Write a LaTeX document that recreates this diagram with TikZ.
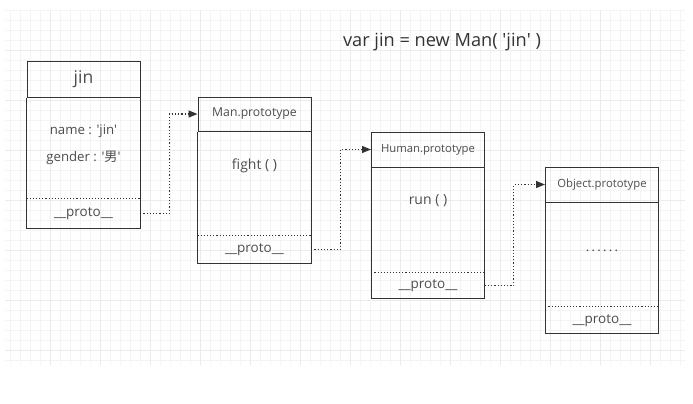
\documentclass[tikz,border=0pt]{standalone}
\usepackage{fontspec}
\setmainfont{Open Sans}
\newfontfamily\cjk{Noto Sans CJK SC}
\usepackage{xcolor}
\usepackage{tikz}
\usetikzlibrary{arrows.meta}
\definecolor{boxline}{HTML}{333333}
\definecolor{txt}{HTML}{4d4d4d}
\newcommand{\q}{\textquotesingle}

\begin{document}
\begin{tikzpicture}[x=1pt, y=-1pt,
	hdr/.style={draw=boxline, line width=1pt, minimum width=113pt, inner sep=0pt, text=txt, font=\fontsize{11.3}{13}\selectfont},
	body/.style={minimum width=113pt, inner sep=0pt, anchor=north},
	side/.style={boxline, line width=1pt},
	field/.style={text=txt, font=\fontsize{13.2}{15}\selectfont},
	proto/.style={minimum width=113pt, inner sep=0pt, anchor=south, text=txt, font=\fontsize{13.5}{15}\selectfont},
	sep/.style={boxline, dotted, line width=1.1pt},
	link/.style={boxline, dotted, line width=1.2pt, -{Triangle[length=9pt,width=7pt]}}]
	\useasboundingbox (0,0) rectangle (693,404);

	%rutenett
	\fill[white] (0,0) rectangle (693,404);
	\draw[step=10pt, gray!9] (5,10) grid (685,365);
	\draw[step=50pt, gray!16] (5,10) grid (685,365);

	%tittel
	\node[text=boxline, font=\fontsize{18.2}{21}\selectfont] (title) at (442,42) {var jin = new Man( \q jin\q\ )};

	%jin
	\node[hdr, minimum height=35pt, font=\fontsize{17.5}{20}\selectfont] (jin) at (83.5,79.5) {jin};
	\node[body, minimum height=131pt] (jinbody) at (jin.south) {};
	\draw[side] (jinbody.north west) |- (jinbody.south east) -- (jinbody.north east);
	\node[field] (jinname) at (83.5,131) {name : \q jin\q};
	\node[field] (jingender) at (83.5,158) {gender : \q{\cjk 男}\q};
	\node[proto, minimum height=30pt] (jinproto) at (jinbody.south) {\_\_proto\_\_};
	\draw[sep] (jinproto.north west) -- (jinproto.north east);

	%Man.prototype
	\node[hdr, minimum height=34pt, font=\fontsize{12.2}{14}\selectfont] (man) at (254.5,114) {Man.prototype};
	\node[body, minimum height=132pt] (manbody) at (man.south) {};
	\draw[side] (manbody.north west) |- (manbody.south east) -- (manbody.north east);
	\node[field, font=\fontsize{14}{16}\selectfont] (manfight) at (254.5,166) {fight ( )};
	\node[proto, minimum height=28pt] (manproto) at (manbody.south) {\_\_proto\_\_};
	\draw[sep] (manproto.north west) -- (manproto.north east);

	%Human.prototype
	\node[hdr, minimum height=35pt] (human) at (428,149.5) {Human.prototype};
	\node[body, minimum height=131pt] (humanbody) at (human.south) {};
	\draw[side] (humanbody.north west) |- (humanbody.south east) -- (humanbody.north east);
	\node[field, font=\fontsize{14}{16}\selectfont] (humanrun) at (428,201) {run ( )};
	\node[proto, minimum height=26pt] (humanproto) at (humanbody.south) {\_\_proto\_\_};
	\draw[sep] (humanproto.north west) -- (humanproto.north east);

	%Object.prototype
	\node[hdr, minimum height=35pt] (object) at (602,184.5) {Object.prototype};
	\node[body, minimum height=131pt] (objectbody) at (object.south) {};
	\draw[side] (objectbody.north west) |- (objectbody.south east) -- (objectbody.north east);
	\node[field] (objectdots) at (602,251) {.\,.\,.\,.\,.\,.};
	\node[proto, minimum height=27pt] (objectproto) at (objectbody.south) {\_\_proto\_\_};
	\draw[sep] (objectproto.north west) -- (objectproto.north east);

	%pilene
	\draw[link] (jinproto.east) -- ++(29,0) |- (man.west);
	\draw[link] (manproto.east) -- ++(29,0) |- (human.west);
	\draw[link] (humanproto.east) -- ++(29,0) |- (object.west);

\end{tikzpicture}
\end{document}
